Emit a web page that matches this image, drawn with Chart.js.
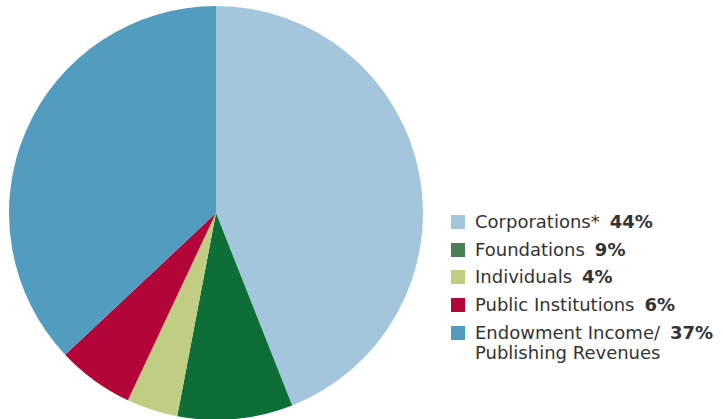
<!DOCTYPE html>
<html>
<head>
<meta charset="utf-8">
<script src="https://cdn.jsdelivr.net/npm/chart.js@4/dist/chart.umd.min.js"></script>
<style>
  html, body { margin: 0; padding: 0; background: #fff; overflow: hidden; }
  #wrap { position: relative; width: 723px; height: 419px; overflow: hidden; }
  #pieBox { position: absolute; left: 0; top: 0; width: 432px; height: 426px; }
  #legend { position: absolute; left: 451px; top: 212px; font-family: "DejaVu Sans", sans-serif; font-size: 18px; color: #333; }
  .row { position: relative; padding-left: 24px; line-height: 20px; margin-bottom: 7.7px; white-space: nowrap; }
  .sw { position: absolute; left: 0; top: 3px; width: 14px; height: 14px; }
  .pct { font-weight: bold; margin-left: 10px; }
</style>
</head>
<body>
<div id="wrap">
  <div id="pieBox"><canvas id="pie"></canvas></div>
  <div id="legend"></div>
</div>
<script>
// Funding sources, in drawing order (clockwise from 12 o'clock)
const categories = ["Corporations*", "Foundations", "Individuals", "Public Institutions", "Endowment Income/"];
const secondLines = ["", "", "", "", "Publishing Revenues"];
const shares = [44, 9, 4, 6, 37];
const sliceColors = ["#a3c6dc", "#0d6e38", "#c1cd83", "#b30537", "#529dbf"];
const swatchColors = ["#a3c6dc", "#4b8055", "#c0cd80", "#b3063a", "#519dbf"];

new Chart(document.getElementById("pie"), {
  type: "pie",
  data: {
    labels: categories,
    datasets: [{
      data: shares,
      backgroundColor: sliceColors,
      borderWidth: 0,
      hoverOffset: 0
    }]
  },
  options: {
    responsive: true,
    maintainAspectRatio: false,
    animation: false,
    layout: { padding: 6 },
    plugins: { legend: { display: false }, tooltip: { enabled: false } }
  }
});

// Legend with bold percentages
const legend = document.getElementById("legend");
categories.forEach((name, i) => {
  const row = document.createElement("div");
  row.className = "row";
  const sw = document.createElement("span");
  sw.className = "sw";
  sw.style.background = swatchColors[i];
  row.appendChild(sw);
  row.appendChild(document.createTextNode(name));
  const pct = document.createElement("span");
  pct.className = "pct";
  pct.textContent = shares[i] + "%";
  row.appendChild(pct);
  if (secondLines[i]) {
    row.appendChild(document.createElement("br"));
    row.appendChild(document.createTextNode(secondLines[i]));
  }
  legend.appendChild(row);
});
</script>
</body>
</html>
